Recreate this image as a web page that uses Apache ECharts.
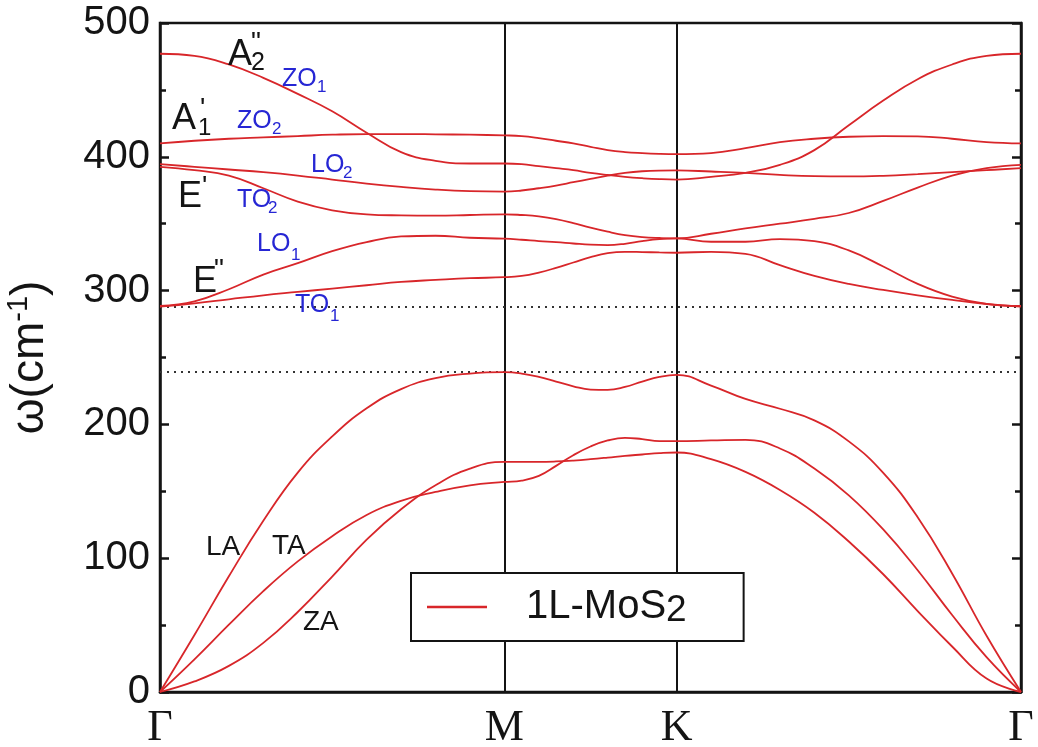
<!DOCTYPE html>
<html>
<head>
<meta charset="utf-8">
<script src="https://cdn.jsdelivr.net/npm/echarts@6/dist/echarts.min.js"></script>
<style>
  html, body { margin: 0; padding: 0; background: #ffffff; }
  #chart { width: 1038px; height: 747px; }
</style>
</head>
<body>
<div id="chart"></div>
<script>
// Path through the Brillouin zone: Γ → M → K → Γ (fraction of total path length)
const kPath = [
  0.00, 0.04, 0.08, 0.12, 0.16, 0.20, 0.24, 0.28, 0.32, 0.36, 0.40,
  0.42, 0.44, 0.46, 0.48, 0.50, 0.52, 0.54, 0.56, 0.58, 0.60,
  0.64, 0.68, 0.72, 0.76, 0.80, 0.84, 0.88, 0.92, 0.96, 1.00
];
const kTicks = [0, 0.4, 0.6, 1];
const kTickLabels = ['Γ', 'M', 'K', 'Γ'];

// Phonon frequencies (cm^-1) of monolayer MoS2 along kPath
const zo1 = [477, 475.5, 469, 459, 447, 434, 418, 403.5, 397, 395, 395,
             394.5, 393, 391.5, 390, 388, 386.4, 385, 384, 383.3, 383,
             385, 388, 394, 405, 423.6, 442, 458, 469, 475.5, 477];
const zo2 = [410, 412, 413.5, 414.5, 415.5, 416.5, 417, 417, 416.8, 416.5, 416,
             415.5, 414, 412, 410, 407.5, 405, 403.5, 402.7, 402.2, 402,
             402.8, 406.5, 411, 413.5, 415, 415.5, 415.3, 413.5, 411, 410];
const lo2 = [394.5, 392.5, 390.5, 388.5, 386, 383, 380, 377.5, 375.5, 374.3, 374,
             374.8, 376.5, 378.5, 381, 383.5, 386, 388, 389.2, 389.7, 389.8,
             389, 388, 386.5, 385.5, 385.3, 385.8, 387, 388.5, 390, 391.5];
const to2 = [392.5, 390, 386, 376.5, 366.5, 360, 357, 356.2, 356, 356.5, 357,
             356.5, 355.5, 353.5, 350.5, 347, 344, 341.5, 340, 339.3, 339,
             342.5, 346.5, 350, 353.6, 358, 367, 377, 386, 391.5, 394];
const lo1 = [288.5, 292, 301, 312, 320.5, 329.5, 336.3, 340.5, 341, 339.5, 338.8,
             338, 337, 336.2, 335.2, 334.3, 334, 335, 337, 338.5, 339,
             336.5, 336.5, 338.5, 337, 330, 318, 305, 295.5, 290, 288.5];
const to1 = [288, 290.5, 293.5, 296.5, 299, 301.5, 304, 306.5, 308, 309.3, 310,
             311, 313.5, 317, 321, 325, 328, 329, 328.8, 328.5, 328.3,
             329, 327.5, 319, 311, 305, 300.5, 296.5, 293, 290, 288];
const la  = [0, 42.6, 86.5, 128, 164, 191, 212, 226.4, 234.6, 238, 239,
             238, 235.5, 232, 228.5, 226, 225.8, 228, 232, 235.5, 237,
             229, 219, 211.7, 203, 187.3, 163.8, 130.6, 88.6, 42, 0];
const ta  = [0, 24.4, 50.3, 75.4, 97.6, 116.4, 132.3, 142.9, 149.5, 154.5, 157,
             158, 161.5, 169, 177, 183.5, 188, 190, 189, 187.5, 187.5,
             188, 188.5, 182, 167, 147, 121.5, 91, 57.5, 26, 0];
const za  = [0, 7.9, 19.5, 36.7, 59.8, 86.3, 113.9, 136.6, 154.5, 167, 172,
             172, 172, 172.3, 173, 174, 175.2, 176.5, 177.5, 178.5, 179,
             174, 164.5, 151, 134, 112.5, 88, 60.5, 34, 10, 0];

// Highest acoustic / lowest optical frequency (dotted guides)
const gapLines = [288, 239];

const branches = [zo1, zo2, lo2, to2, lo1, to1, la, ta, za];
const seriesName = '1L-MoS2';

const SANS = '"Liberation Sans", Arial, sans-serif';
const SERIF = '"Liberation Serif", "Times New Roman", serif';
const RED = '#d8262a';
const BLUE = '#2626d4';
const INK = '#141414';

const chart = echarts.init(document.getElementById('chart'), null, { renderer: 'canvas' });

const series = branches.map(function (vals, i) {
  const s = {
    name: seriesName,
    type: 'line',
    data: kPath.map(function (k, j) { return [k, vals[j]]; }),
    smooth: 0.45,
    showSymbol: false,
    symbol: 'none',
    lineStyle: { color: RED, width: 1.8 },
    itemStyle: { color: RED },
    z: 3
  };
  if (i === 0) {
    s.markLine = {
      silent: true,
      symbol: ['none', 'none'],
      label: { show: false },
      z: 2,
      data: kTicks.slice(1, 3).map(function (k) {
        return { xAxis: k, lineStyle: { color: INK, width: 2, type: 'solid' } };
      }).concat(gapLines.map(function (v) {
        return { yAxis: v, lineStyle: { color: '#333333', width: 2, type: [2, 5] } };
      }))
    };
  }
  return s;
});

// Mode annotations: [text, x, y(middle), fontSize, color]
const annotations = [
  ['A', 228, 55, 36, INK], ['"', 251, 43, 28, INK], ['2', 251, 63, 25, INK],
  ['A', 172, 119, 36, INK], ["'", 200, 109, 28, INK], ['1', 198, 128, 24, INK],
  ['E', 178, 197, 36, INK], ["'", 202, 187, 28, INK],
  ['E', 193, 282, 36, INK], ['"', 214, 270, 28, INK],
  ['ZO', 282, 79, 25, BLUE], ['1', 317, 87, 17, BLUE],
  ['ZO', 237, 121, 25, BLUE], ['2', 272, 129, 17, BLUE],
  ['LO', 311, 165, 25, BLUE], ['2', 343, 173, 17, BLUE],
  ['TO', 237, 200, 25, BLUE], ['2', 268, 208, 17, BLUE],
  ['LO', 257, 244, 25, BLUE], ['1', 291, 255, 17, BLUE],
  ['TO', 295, 305, 25, BLUE], ['1', 330, 316, 17, BLUE],
  ['LA', 206, 547, 28, INK],
  ['TA', 272, 546, 28, INK],
  ['ZA', 303, 622, 28, INK]
];

const option = {
  animation: false,
  backgroundColor: '#ffffff',
  grid: {
    left: 160, right: 17, top: 23, bottom: 55,
    outerBoundsMode: 'none',
    containLabel: false,
    show: true, borderColor: INK, borderWidth: 2.5, backgroundColor: 'transparent'
  },
  xAxis: {
    type: 'value', min: 0, max: 1, interval: 0.2,
    axisLine: { lineStyle: { color: INK, width: 2.5 } },
    axisTick: { show: false },
    splitLine: { show: false },
    axisLabel: {
      margin: 14,
      fontFamily: SERIF, fontSize: 44, color: INK,
      formatter: function (v) {
        for (let i = 0; i < kTicks.length; i++) {
          if (Math.abs(v - kTicks[i]) < 1e-6) return kTickLabels[i];
        }
        return '';
      }
    }
  },
  yAxis: [{
    type: 'value', min: 0, max: 500, interval: 100,
    name: 'ω(cm{sup|-1})',
    nameLocation: 'middle', nameGap: 104,
    nameTextStyle: {
      fontFamily: SANS, fontSize: 46, color: INK, lineHeight: 52,
      rich: { sup: { fontFamily: SANS, fontSize: 29, lineHeight: 22, verticalAlign: 'top', color: INK } }
    },
    axisLine: { show: true, lineStyle: { color: INK, width: 2.5 } },
    axisTick: { inside: true, length: 9, lineStyle: { color: INK, width: 2.5 } },
    minorTick: { show: true, splitNumber: 2, length: 6, lineStyle: { color: INK, width: 2.5 } },
    splitLine: { show: false },
    axisLabel: { margin: 10, fontFamily: SANS, fontSize: 40, color: INK }
  }, {
    type: 'value', min: 0, max: 500, interval: 100, position: 'right',
    axisLine: { show: true, lineStyle: { color: INK, width: 2.5 } },
    axisTick: { inside: true, length: 9, lineStyle: { color: INK, width: 2.5 } },
    minorTick: { show: true, splitNumber: 2, length: 6, lineStyle: { color: INK, width: 2.5 } },
    splitLine: { show: false },
    axisLabel: { show: false }
  }],
  legend: {
    data: [seriesName],
    left: 411, top: 573,
    padding: [12, 57, 12, 16],
    icon: 'rect',
    itemWidth: 60, itemHeight: 2.5,
    itemStyle: { color: RED },
    borderColor: INK, borderWidth: 2,
    backgroundColor: '#ffffff',
    selectedMode: false,
    formatter: function () { return '1L-MoS{sub|2}'; },
    textStyle: {
      fontFamily: SANS, fontSize: 40, color: INK, lineHeight: 44,
      padding: [0, 0, 0, 34],
      rich: { sub: { fontFamily: SANS, fontSize: 37, lineHeight: 30, verticalAlign: 'bottom', color: INK } }
    }
  },
  graphic: annotations.map(function (a) {
    return {
      type: 'text', left: a[1], top: a[2] - a[3] * 0.5, z: 10, silent: true,
      style: { text: a[0], fontFamily: SANS, fontSize: a[3], fill: a[4] }
    };
  }),
  series: series
};

chart.setOption(option);
</script>
</body>
</html>
